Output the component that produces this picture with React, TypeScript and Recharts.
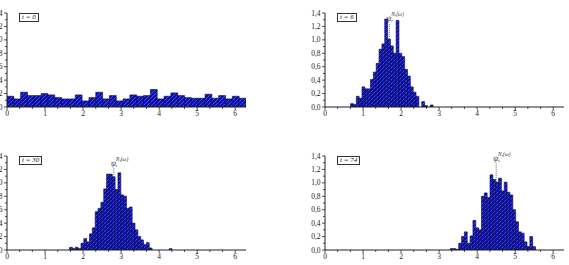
import React from "react"
import { BarChart, Bar, XAxis, YAxis, ReferenceLine } from "recharts"

const TWO_PI = 2 * Math.PI
// histogram bins: t = 0 uses 35 bins on [0, 2π], the others 84 bins on [0, 2π]
const COARSE_BIN = TWO_PI / 35
const FINE_BIN = TWO_PI / 84

const t0Heights = [
  0.16, 0.12, 0.22, 0.17, 0.17, 0.2, 0.18, 0.14, 0.12, 0.12, 0.18, 0.09, 0.14, 0.22, 0.12, 0.17, 0.09, 0.12,
  0.18, 0.16, 0.17, 0.26, 0.12, 0.16, 0.21, 0.17, 0.14, 0.13, 0.13, 0.19, 0.13, 0.17, 0.12, 0.16, 0.13,
]

const t6FirstBin = 9
const t6Heights = [
  0.05, 0.035, 0.16, 0.13, 0.3, 0.27, 0.27, 0.41, 0.52, 0.65, 0.86, 0.94, 1.31, 1.01, 0.91, 0.8, 1.29, 0.8, 0.75,
  0.56, 0.46, 0.3, 0.22, 0.16, 0, 0.08, 0.02, 0, 0.03,
]

const t30FirstBin = 22
const t30Heights = [
  0.04, 0.02, 0.04, 0.02, 0.1, 0.17, 0.12, 0.24, 0.33, 0.57, 0.62, 0.71, 0.91, 1.13, 1.13, 1.09, 0.9, 1.15, 0.82,
  0.8, 0.62, 0.64, 0.4, 0.3, 0.2, 0.15, 0.08, 0.11, 0.03, 0, 0, 0, 0, 0, 0, 0.02,
]

const t74FirstBin = 44
const t74Heights = [
  0.02, 0.02, 0.01, 0.1, 0.2, 0.27, 0.1, 0.21, 0.44, 0.33, 0.3, 0.8, 0.85, 0.78, 1.12, 1.05, 1.01, 1.07, 0.88,
  1.01, 0.86, 0.82, 0.6, 0.42, 0.27, 0.25, 0.12, 0.05, 0.2, 0.05,
]

// empirical mean marker: x position, bar top under it, top of dotted line
const t6Mean = [1.69, 1.01, 1.25]
const t30Mean = [2.81, 1.09, 1.22]
const t74Mean = [4.5, 1.01, 1.29]

const yTicks = [0, 0.1, 0.2, 0.3, 0.4, 0.5, 0.6, 0.7, 0.8, 0.9, 1.0, 1.1, 1.2, 1.3, 1.4]
const xTicks = [
  0, 0.333, 0.667, 1, 1.333, 1.667, 2, 2.333, 2.667, 3, 3.333, 3.667, 4, 4.333, 4.667, 5, 5.333, 5.667, 6,
]

const SERIF = "'Liberation Serif', 'DejaVu Serif', serif"
const CHART_W = 275
const CHART_H = 123
const Y_AXIS_W = 30
const MARGIN = { top: 13, right: 6, bottom: 2, left: 0 }
const PLOT_W = CHART_W - Y_AXIS_W - MARGIN.right
const PX_PER_UNIT = PLOT_W / TWO_PI

function toBins(heights: number[], firstBin: number, width: number) {
  return heights.map((h, i) => ({ x: (firstBin + i + 0.5) * width, h }))
}

function YTick(props: any) {
  const { x, y, payload } = props
  const v = payload.value
  const major = Math.abs(v * 5 - Math.round(v * 5)) < 1e-6
  return (
    <g>
      <line x1={x - (major ? 3 : 2)} x2={x} y1={y} y2={y} stroke="#222" strokeWidth={0.8} />
      {major && (
        <text x={x - 4.5} y={y} textAnchor="end" dominantBaseline="central" fontSize={7.5} fill="#222" fontFamily={SERIF}>
          {v.toFixed(1).replace(".", ",")}
        </text>
      )}
    </g>
  )
}

function XTick(props: any) {
  const { x, y, payload } = props
  const v = payload.value
  const major = Math.abs(v - Math.round(v)) < 1e-6
  return (
    <g>
      <line x1={x} x2={x} y1={y} y2={y + (major ? 3 : 2)} stroke="#222" strokeWidth={0.8} />
      {major && (
        <text x={x} y={y + 6.5} textAnchor="middle" dominantBaseline="central" fontSize={7.5} fill="#222" fontFamily={SERIF}>
          {Math.round(v)}
        </text>
      )}
    </g>
  )
}

function PsiLabel(props: any) {
  const { viewBox } = props
  if (!viewBox) return null
  const x = viewBox.x
  const y = viewBox.y
  return (
    <text x={x - 3} y={y - 2.5} fontSize={8} fill="#333" fontFamily={SERIF} fontStyle="italic">
      ψ
      <tspan fontSize={5} dy={1.5}>t</tspan>
      <tspan fontSize={5.5} dx={-1.5} dy={-6.5}>N,(ω)</tspan>
    </text>
  )
}

function Histogram({ id, data, binWidth, mean }: { id: string; data: { x: number; h: number }[]; binWidth: number; mean?: number[] }) {
  return (
    <BarChart width={CHART_W} height={CHART_H} data={data} margin={MARGIN} barGap={0} barCategoryGap={0}>
      <defs>
        <pattern id={id} patternUnits="userSpaceOnUse" width={4} height={4}>
          <rect width={4} height={4} fill="#1010b0" />
          <path d="M-1,1 l2,-2 M0,4 l4,-4 M3,5 l2,-2" stroke="#4a6af5" strokeWidth={0.7} />
        </pattern>
      </defs>
      <XAxis
        type="number"
        dataKey="x"
        domain={[0, TWO_PI]}
        allowDataOverflow
        ticks={xTicks}
        interval={0}
        tickSize={0}
        tickMargin={0}
        height={14}
        tick={XTick}
        axisLine={{ stroke: "#222", strokeWidth: 1 }}
      />
      <YAxis
        type="number"
        domain={[0, 1.4]}
        allowDataOverflow
        ticks={yTicks}
        interval={0}
        tickSize={0}
        tickMargin={0}
        width={Y_AXIS_W}
        tick={YTick}
        axisLine={{ stroke: "#222", strokeWidth: 1 }}
      />
      <Bar
        dataKey="h"
        fill={`url(#${id})`}
        stroke="#000046"
        strokeWidth={0.6}
        barSize={binWidth * PX_PER_UNIT - 0.02}
        isAnimationActive={false}
      />
      {mean && (
        <ReferenceLine
          segment={[
            { x: mean[0], y: mean[1] },
            { x: mean[0], y: mean[2] },
          ]}
          stroke="#444"
          strokeWidth={0.8}
          strokeDasharray="1 1"
          label={PsiLabel}
        />
      )}
    </BarChart>
  )
}

const panels = [
  { id: "h0", t: "0", left: -23, top: 0, data: toBins(t0Heights, 0, COARSE_BIN), bin: COARSE_BIN, mean: undefined },
  { id: "h6", t: "6", left: 295, top: 0, data: toBins(t6Heights, t6FirstBin, FINE_BIN), bin: FINE_BIN, mean: t6Mean },
  { id: "h30", t: "30", left: -23, top: 143, data: toBins(t30Heights, t30FirstBin, FINE_BIN), bin: FINE_BIN, mean: t30Mean },
  { id: "h74", t: "74", left: 295, top: 143, data: toBins(t74Heights, t74FirstBin, FINE_BIN), bin: FINE_BIN, mean: t74Mean },
]

export default function App() {
  return (
    <div style={{ position: "absolute", left: 0, top: 0, width: 569, height: 265, overflow: "hidden", background: "#fff" }}>
      {panels.map((p) => (
        <div key={p.id} style={{ position: "absolute", left: p.left, top: p.top, width: CHART_W, height: CHART_H }}>
          <Histogram id={p.id} data={p.data} binWidth={p.bin} mean={p.mean} />
          <div
            style={{
              position: "absolute",
              left: Y_AXIS_W + 12,
              top: MARGIN.top,
              border: "1px solid #333",
              padding: "0 2px",
              height: 7,
              lineHeight: "7px",
              fontSize: 7,
              fontFamily: SERIF,
              fontStyle: "italic",
              color: "#222",
              whiteSpace: "nowrap",
              background: "#fff",
            }}
          >
            t = {p.t}
          </div>
        </div>
      ))}
    </div>
  )
}
